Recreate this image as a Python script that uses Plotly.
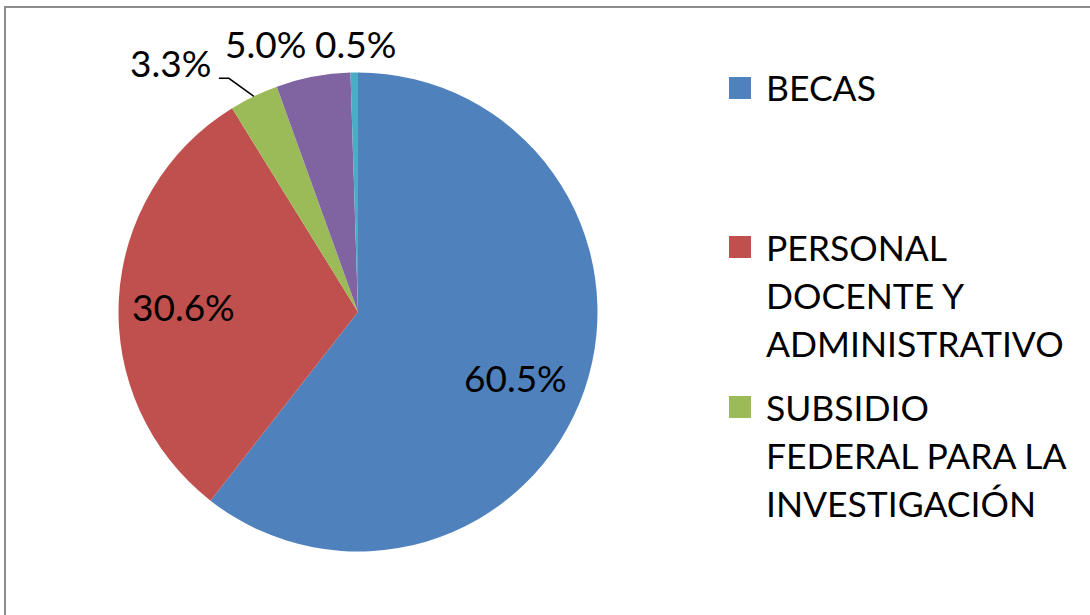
import math
import plotly.graph_objects as go

# ---------------- data ----------------
categories = ["BECAS",
              "PERSONAL DOCENTE Y ADMINISTRATIVO",
              "SUBSIDIO FEDERAL PARA LA INVESTIGACIÓN",
              "GASTOS DE OPERACIÓN",
              "OTROS"]
values = [60.5, 30.6, 3.3, 5.0, 0.5]
pct_labels = ["60.5%", "30.6%", "3.3%", "5.0%", "0.5%"]
legend_lines = [["BECAS"],
                ["PERSONAL", "DOCENTE Y", "ADMINISTRATIVO"],
                ["SUBSIDIO", "FEDERAL PARA LA", "INVESTIGACIÓN"]]

# ---------------- style ----------------
colors = ["#4F81BD", "#C0504D", "#9BBB59", "#8064A2", "#4BACC6"]
FONT = "Lato"
W, H = 1090, 615
CX, CY, R = 358, 312, 239.5          # pie centre / radius in pixels
# label placement: ("in", radius factor, dx, dy) or ("out", dx, dy) from rim midpoint
label_style = [("in", 0.71, -3, 10), ("in", 0.73, 0, 4),
               ("out", -83, -34), ("out", -48, -33), ("out", 1, -29)]
leader_for = {2: [(-25, -18), (-35, -18)]}
LEG_X_BOX, LEG_X_TEXT, BOX = 729, 764, 22
LEG_Y = [88, 247, 407]
LINE_H = 48


def px(x):
    return x / W


def py(y):
    return 1 - y / H


fig = go.Figure()
fig.add_trace(go.Pie(
    labels=categories, values=values, sort=False, direction="clockwise",
    rotation=0, textinfo="none", hoverinfo="label+percent",
    marker=dict(colors=colors, line=dict(width=0)),
    domain=dict(x=[px(CX - R), px(CX + R)], y=[py(CY + R), py(CY - R)]),
    showlegend=False,
))

annotations = []
shapes = []
total = sum(values)
cum = 0.0
for i, v in enumerate(values):
    mid = 2 * math.pi * (cum + v / 2) / total
    cum += v
    s, c = math.sin(mid), math.cos(mid)
    st = label_style[i]
    if st[0] == "in":
        lx = CX + st[1] * R * s + st[2]
        ly = CY - st[1] * R * c + st[3]
    else:
        rx, ry = CX + R * s, CY - R * c
        lx, ly = rx + st[1], ry + st[2]
        if i in leader_for:
            pts = [(rx, ry)] + [(rx + dx, ry + dy) for dx, dy in leader_for[i]]
            path = "M " + " L ".join(f"{px(a)},{py(b)}" for a, b in pts)
            shapes.append(dict(type="path", xref="paper", yref="paper",
                               path=path, line=dict(color="black", width=1.5)))
    annotations.append(dict(x=px(lx), y=py(ly), xref="paper", yref="paper",
                            text=pct_labels[i], showarrow=False,
                            xanchor="center", yanchor="middle",
                            font=dict(family=FONT, size=37, color="black")))

# custom legend (only the visible entries)
for k, lines in enumerate(legend_lines):
    yc = LEG_Y[k]
    shapes.append(dict(type="rect", xref="paper", yref="paper",
                       x0=px(LEG_X_BOX), x1=px(LEG_X_BOX + BOX),
                       y0=py(yc - BOX / 2), y1=py(yc + BOX / 2),
                       fillcolor=colors[k], line=dict(width=0)))
    for j, t in enumerate(lines):
        annotations.append(dict(x=px(LEG_X_TEXT), y=py(yc + j * LINE_H),
                                xref="paper", yref="paper", text=t,
                                showarrow=False, xanchor="left", yanchor="middle",
                                font=dict(family=FONT, size=35.5, color="black")))

# outer chart frame
shapes.append(dict(type="rect", xref="paper", yref="paper",
                   x0=px(5), x1=px(W + 10), y0=py(7), y1=py(H + 10),
                   line=dict(color="#8C8C8C", width=2), fillcolor="rgba(0,0,0,0)"))

fig.update_layout(width=W, height=H, margin=dict(l=0, r=0, t=0, b=0),
                  paper_bgcolor="white", plot_bgcolor="white",
                  annotations=annotations, shapes=shapes)
fig.write_html("out.html", config={"displayModeBar": False},
               post_script="document.body.style.margin='0';"
                           "document.body.style.overflow='hidden';")
